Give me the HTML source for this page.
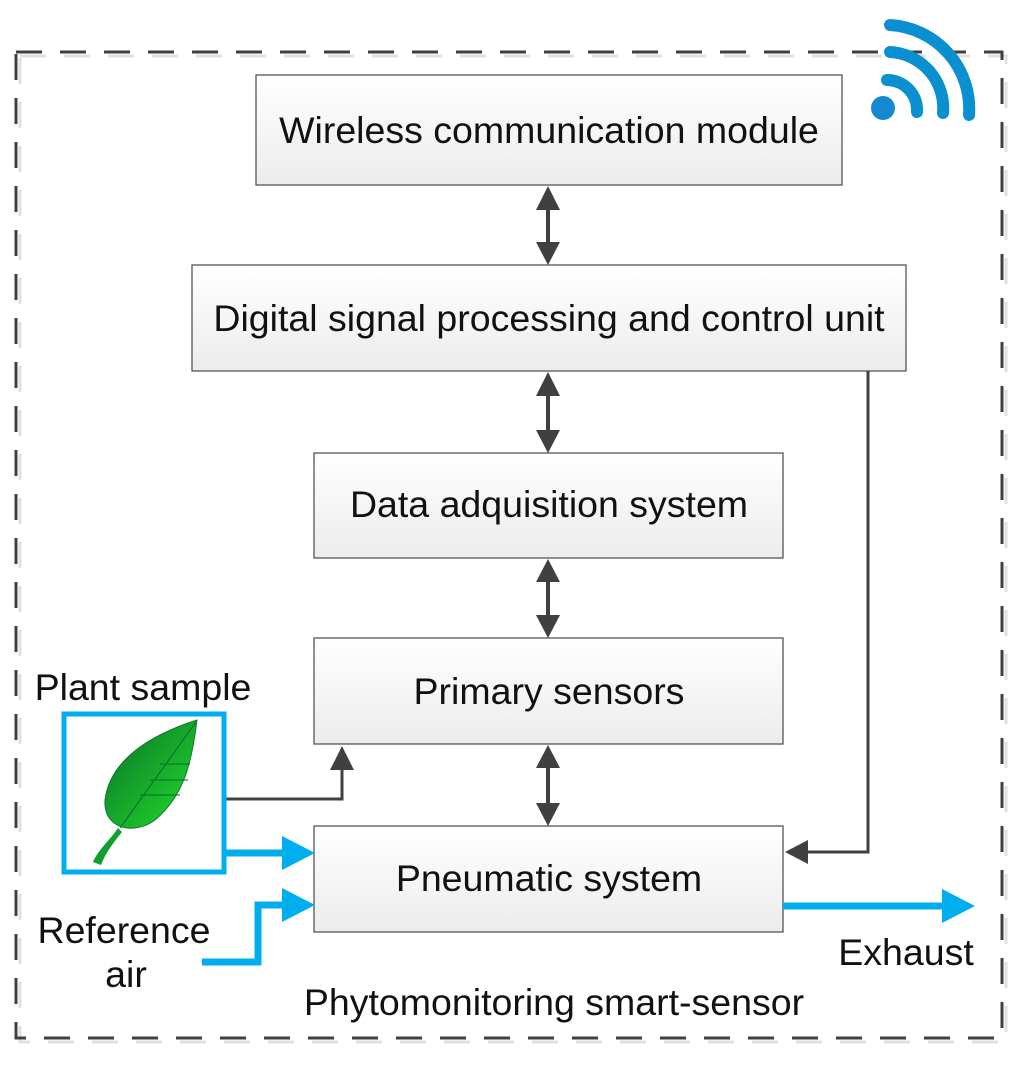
<!DOCTYPE html>
<html><head><style>
body{margin:0;background:#fff;width:1024px;height:1060px;overflow:hidden;font-family:"Liberation Sans",sans-serif;}
</style></head><body>
<svg width="1024" height="1060" viewBox="0 0 1024 1060" xmlns="http://www.w3.org/2000/svg">
<defs>
<linearGradient id="bg" x1="0" y1="0" x2="0" y2="1"><stop offset="0" stop-color="#ffffff"/><stop offset="1" stop-color="#ececec"/></linearGradient>
<linearGradient id="leaf" x1="0" y1="0" x2="1" y2="1"><stop offset="0" stop-color="#0a6e2a"/><stop offset="1" stop-color="#22e02a"/></linearGradient>
</defs>
<rect x="16" y="52" width="986" height="986" fill="none" stroke="#e0e0e0" stroke-width="3" stroke-dasharray="26,18" transform="translate(4,4)"/>
<rect x="16" y="52" width="986" height="986" fill="none" stroke="#404040" stroke-width="3" stroke-dasharray="26,18"/>
<g stroke="#0a8fd0" stroke-width="12" fill="none" stroke-linecap="round">
<path d="M887,80 A30,30 0 0 1 917,112"/>
<path d="M890,52 A56,56 0 0 1 943,113"/>
<path d="M890,25 A84,84 0 0 1 969,115"/>
</g>
<circle cx="883" cy="108" r="12" fill="#1588d0"/>
<g font-size="37.5" fill="#111" text-anchor="middle">
<g fill="url(#bg)" stroke="#555" stroke-width="1.3">
<rect x="256" y="75" width="586" height="110"/>
<rect x="192" y="265" width="714" height="106"/>
<rect x="314" y="453" width="469" height="105"/>
<rect x="314" y="638" width="469" height="106"/>
<rect x="314" y="826" width="469" height="106"/>
</g>
<text x="549" y="143">Wireless communication module</text>
<text x="549" y="331">Digital signal processing and control unit</text>
<text x="549" y="517">Data adquisition system</text>
<text x="549" y="704">Primary sensors</text>
<text x="549" y="891">Pneumatic system</text>
<text x="143" y="700">Plant sample</text>
<text x="124" y="943">Reference</text>
<text x="126" y="987">air</text>
<text x="906" y="965">Exhaust</text>
<text x="554" y="1015">Phytomonitoring smart-sensor</text>
</g>
<g stroke="#404040" stroke-width="4" fill="none">
<line x1="548" y1="205" x2="548" y2="245"/>
<line x1="548" y1="392" x2="548" y2="432"/>
<line x1="548" y1="578" x2="548" y2="618"/>
<line x1="548" y1="765" x2="548" y2="806"/>
</g>
<g fill="#404040">
<path d="M536,210 L548,186 L560,210z M536,242 L548,265 L560,242z"/>
<path d="M536,396 L548,372 L560,396z M536,430 L548,453 L560,430z"/>
<path d="M536,582 L548,559 L560,582z M536,615 L548,638 L560,615z"/>
<path d="M536,768 L548,745 L560,768z M536,803 L548,826 L560,803z"/>
<path d="M330,770 L342,746 L354,770z"/>
<path d="M808,840 L785,852 L808,864z"/>
</g>
<path d="M226,799 H342 V765" stroke="#404040" stroke-width="3" fill="none"/>
<path d="M868,371 V852 H805" stroke="#404040" stroke-width="3" fill="none"/>
<rect x="64" y="714" width="160" height="158" fill="#fff" stroke="#00aeef" stroke-width="5"/>
<path d="M197,720 C150,735 110,760 105,800 C103,830 135,835 155,820 C185,795 192,760 197,720z" fill="url(#leaf)" stroke="#0a7a2a" stroke-width="1"/>
<path d="M118,828 C110,840 98,850 93,862 L101,865 C106,852 114,842 122,832z" fill="#10a030"/>
<g stroke="#0a6a2a" stroke-width="1" fill="none"><path d="M196,722 L120,828"/><path d="M160,764 L190,764 M150,780 L188,780 M140,795 L180,795"/></g>
<g stroke="#00aeef" fill="#00aeef">
<path d="M226,853 H285" stroke-width="7"/><path d="M282,836 L315,853 L282,870z" stroke="none"/>
<path d="M202,962 H258 V905 H285" stroke-width="7" fill="none"/><path d="M282,888 L315,905 L282,922z" stroke="none"/>
<path d="M783,906 H945" stroke-width="7"/><path d="M942,889 L975,906 L942,923z" stroke="none"/>
</g>
</svg>
</body></html>
